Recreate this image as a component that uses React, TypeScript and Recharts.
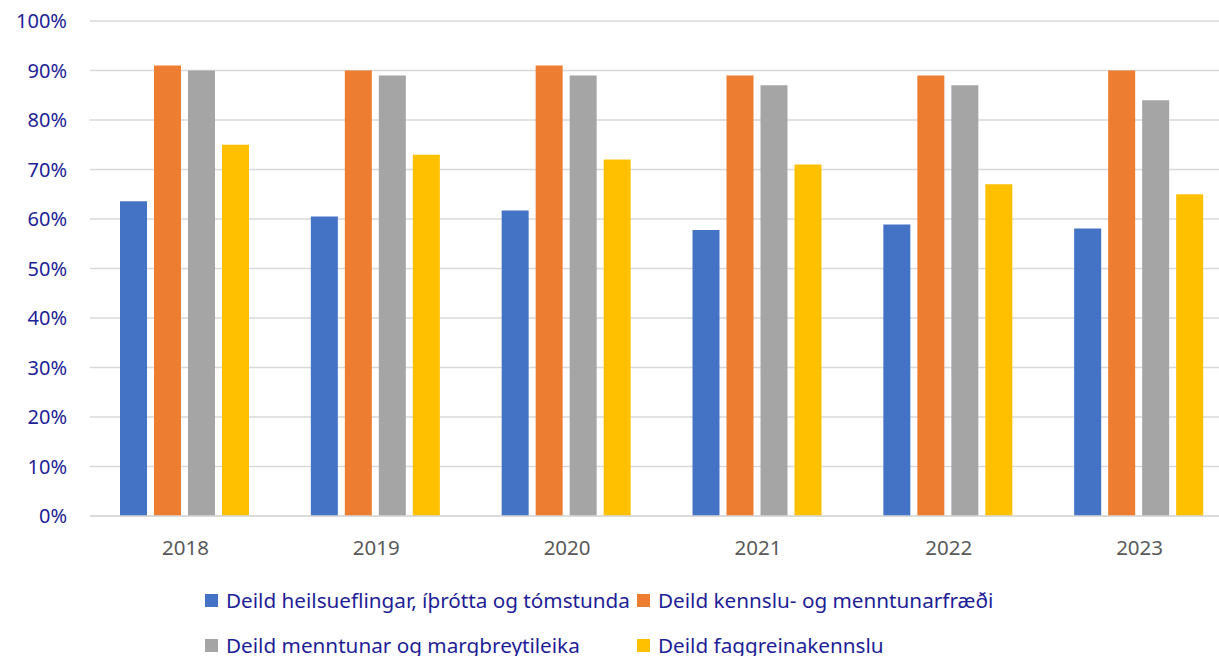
import React from "react";
import { BarChart, Bar, XAxis, YAxis, CartesianGrid } from "recharts";

const years = ["2018", "2019", "2020", "2021", "2022", "2023"];
const heilsa = [63.6, 60.5, 61.7, 57.8, 58.9, 58.1];
const kennsla = [91, 90, 91, 89, 89, 90];
const menntun = [90, 89, 89, 87, 87, 84];
const faggrein = [75, 73, 72, 71, 67, 65];
const seriesNames = [
  "Deild heilsueflingar, íþrótta og tómstunda",
  "Deild kennslu- og menntunarfræði",
  "Deild menntunar og margbreytileika",
  "Deild faggreinakennslu",
];
const colors = ["#4472C4", "#ED7D31", "#A5A5A5", "#FFC000"];
const yTicks = [0, 10, 20, 30, 40, 50, 60, 70, 80, 90, 100];

const data = years.map((y, i) => ({
  year: y,
  s0: heilsa[i],
  s1: kennsla[i],
  s2: menntun[i],
  s3: faggrein[i],
}));

const FONT = "'Noto Sans', sans-serif";
const TEXT_BLUE = "#1E1E96";

export default function App() {
  const legendPos = [
    { left: 205, top: 587 },
    { left: 637, top: 587 },
    { left: 205, top: 632 },
    { left: 637, top: 632 },
  ];
  return (
    <div style={{ position: "absolute", left: 0, top: 0, width: 1219, height: 656, overflow: "hidden", background: "#fff" }}>
      <BarChart
        width={1240}
        height={600}
        data={data}
        margin={{ top: 21, right: 5, left: 0, bottom: 24 }}
        barCategoryGap={30}
        barGap={7}
      >
        <CartesianGrid vertical={false} stroke="#D9D9D9" strokeWidth={1.5} />
        <XAxis
          dataKey="year"
          height={60}
          tickSize={0}
          tickMargin={24}
          axisLine={{ stroke: "#D9D9D9", strokeWidth: 1.5 }}
          tick={{ fill: "#595959", fontSize: 20.5, fontFamily: FONT }}
        />
        <YAxis
          width={90}
          domain={[0, 100]}
          ticks={yTicks}
          tickFormatter={(v) => `${v}%`}
          tickSize={0}
          tickMargin={23}
          axisLine={false}
          tickLine={false}
          tick={{ fill: TEXT_BLUE, fontSize: 20, fontFamily: FONT }}
        />
        {["s0", "s1", "s2", "s3"].map((k, i) => (
          <Bar key={k} dataKey={k} name={seriesNames[i]} fill={colors[i]} isAnimationActive={false} />
        ))}
      </BarChart>
      {seriesNames.map((n, i) => (
        <div
          key={n}
          style={{
            position: "absolute",
            left: legendPos[i].left,
            top: legendPos[i].top,
            display: "flex",
            alignItems: "center",
            fontFamily: FONT,
            fontSize: 20.7,
            color: TEXT_BLUE,
            whiteSpace: "nowrap",
            lineHeight: "26px",
          }}
        >
          <span style={{ display: "inline-block", width: 13, height: 13, background: colors[i], marginRight: 8 }} />
          {n}
        </div>
      ))}
    </div>
  );
}
